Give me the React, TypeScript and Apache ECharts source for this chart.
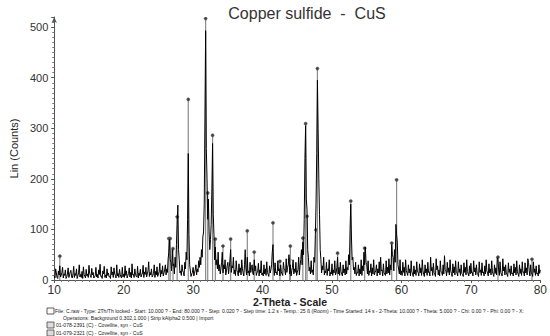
import React, { useEffect, useRef } from "react";
import * as echarts from "echarts";

const TITLE = "Copper sulfide  -  CuS";
const X_NAME = "2-Theta - Scale";
const Y_NAME = "Lin (Counts)";
const X_TICKS = [10, 20, 30, 40, 50, 60, 70, 80];
const Y_TICKS = [0, 100, 200, 300, 400, 500];
const Y_TOP = 520;

// measured scan, sampled every 0.2° starting at 10.0°
const SCAN_START = 10;
const SCAN_STEP = 0.2;
const scanCounts = [
  8, 22, 5, 18, 28, 9, 25, 12, 20, 6,
  24, 10, 19, 4, 27, 13, 22, 8, 30, 11,
  17, 26, 7, 21, 12, 29, 9, 23, 15, 6,
  25, 11, 20, 31, 8, 18, 27, 10, 22, 14,
  7, 26, 16, 24, 9, 30, 13, 21, 6, 25,
  12, 28, 18, 9, 24, 15, 32, 11, 22, 7,
  27, 14, 21, 10, 29, 16, 25, 12, 36, 15,
  22, 9, 30, 17, 26, 12, 33, 19, 28, 14,
  30, 22, 42, 80, 35, 60, 32, 45, 70, 148,
  40, 18, 30, 15, 35, 55, 120, 90, 30, 12,
  25, 14, 30, 22, 38, 45, 60, 85, 150, 493,
  200, 160, 60, 110, 270, 90, 65, 40, 55, 30,
  22, 55, 30, 40, 18, 35, 25, 60, 28, 45,
  20, 38, 15, 32, 24, 40, 14, 30, 22, 45,
  18, 35, 25, 12, 40, 28, 15, 33, 20, 38,
  14, 30, 22, 36, 11, 28, 20, 55, 25, 34,
  16, 38, 22, 30, 12, 35, 20, 42, 25, 50,
  30, 18, 40, 22, 35, 15, 45, 28, 60, 75,
  120, 305, 140, 45, 25, 38, 20, 45, 90, 250,
  300, 130, 40, 28, 45, 18, 35, 22, 40, 15,
  32, 20, 38, 14, 45, 25, 35, 12, 30, 22,
  38, 25, 50, 100, 85, 45, 25, 35, 15, 30,
  22, 40, 28, 55, 65, 30, 38, 18, 32, 24,
  40, 15, 30, 22, 36, 45, 20, 32, 14, 38,
  25, 42, 30, 70, 45, 60, 110, 75, 30, 40,
  18, 35, 25, 40, 14, 30, 22, 38, 12, 28,
  20, 36, 15, 32, 24, 40, 11, 30, 22, 35,
  16, 45, 25, 33, 12, 42, 28, 20, 38, 15,
  30, 48, 18, 35, 24, 40, 13, 32, 26, 38,
  14, 36, 22, 30, 11, 34, 25, 40, 17, 28,
  33, 15, 38, 24, 30, 12, 36, 20, 34, 16,
  28, 40, 14, 32, 22, 38, 12, 30, 24, 44,
  20, 36, 15, 42, 26, 30, 11, 34, 22, 28,
  14, 32, 25, 38, 12, 30, 22, 36, 16, 34,
  24, 42, 18, 30, 12, 36, 22, 28, 14, 30,
  20,
];

// scan samples between the ones above (10.1°, 10.3°, ... 79.9°)
const scanCountsOdd = [
  4, 14, 3, 10, 6, 15, 4, 9, 3, 12,
  5, 16, 6, 12, 5, 9, 3, 14, 6, 5,
  3, 11, 4, 8, 5, 13, 5, 10, 4, 9,
  6, 4, 11, 7, 3, 12, 5, 4, 9, 6,
  3, 10, 5, 12, 4, 8, 5, 11, 4, 6,
  5, 9, 4, 13, 6, 4, 10, 5, 12, 6,
  4, 9, 6, 14, 5, 11, 6, 18, 7, 10,
  6, 13, 5, 10, 7, 16, 6, 12, 8, 20,
  10, 15, 55, 40, 18, 28, 12, 25, 110, 60,
  14, 9, 18, 8, 22, 40, 250, 30, 7, 15,
  8, 20, 10, 16, 25, 30, 45, 95, 320, 260,
  120, 95, 80, 180, 130, 40, 30, 22, 18, 12,
  35, 14, 22, 10, 28, 12, 40, 15, 24, 12,
  9, 20, 8, 15, 10, 22, 8, 60, 10, 14,
  8, 15, 30, 10, 18, 9, 16, 8, 14, 10,
  8, 12, 9, 15, 7, 14, 30, 70, 9, 14,
  10, 18, 8, 16, 9, 22, 10, 15, 30, 12,
  8, 25, 12, 15, 9, 20, 10, 40, 30, 50,
  240, 160, 60, 18, 12, 15, 10, 35, 150, 395,
  200, 60, 14, 20, 10, 14, 9, 18, 8, 12,
  9, 14, 10, 25, 12, 9, 16, 8, 14, 10,
  12, 20, 30, 150, 40, 20, 12, 9, 14, 8,
  12, 9, 18, 30, 35, 12, 9, 15, 8, 12,
  10, 18, 8, 14, 10, 18, 8, 14, 9, 12,
  14, 10, 20, 50, 18, 35, 90, 30, 12, 10,
  9, 15, 8, 18, 9, 14, 8, 16, 7, 12,
  9, 16, 8, 14, 9, 18, 7, 14, 9, 15,
  8, 18, 9, 15, 7, 20, 10, 8, 16, 9,
  12, 20, 8, 15, 10, 18, 7, 14, 10, 16,
  8, 15, 9, 13, 7, 15, 10, 17, 8, 12,
  14, 8, 16, 10, 13, 7, 15, 9, 14, 8,
  12, 18, 8, 14, 10, 16, 7, 13, 10, 40,
  9, 15, 8, 18, 10, 14, 7, 15, 9, 12,
  8, 14, 10, 16, 7, 13, 9, 15, 8, 14,
  10, 35, 8, 14, 7, 15, 9, 12, 8, 13,
];

// reference pattern 01-078-2391 Covellite (stick positions and heights)
const refPositions = [
  10.8, 26.5, 26.7, 27.1, 27.7, 29.3, 31.8, 32.1, 32.8, 33.2, 34.3, 35.4, 37.8, 38.8,
  41.5, 42.5, 43.9, 44.0, 45.8, 46.2, 46.4, 47.7, 47.9, 50.8, 52.7, 54.7, 58.6, 59.3,
  73.9, 78.8,
];
const refHeights = [
  47, 82, 82, 62, 125, 357, 517, 172, 286, 81, 67, 81, 97, 55,
  113, 37, 40, 67, 83, 309, 126, 99, 418, 53, 156, 63, 73, 198,
  45, 41,
];

const FOOTER = [
  "File: C.raw - Type: 2Th/Th locked - Start: 10.000 ? - End: 80.000 ? - Step: 0.020 ? - Step time: 1.2 s - Temp.: 25 ß (Room) - Time Started: 14 s - 2-Theta: 10.000 ? - Theta: 5.000 ? - Chi: 0.00 ? - Phi: 0.00 ? - X:",
  "Operations: Background 0.302,1.000 | Strip kAlpha2 0.500 | Import",
  "01-078-2391 (C) - Covellite, syn - CuS",
  "01-079-2321 (C) - Covellite, syn - CuS",
];

const FONT = "'Liberation Sans', Arial, sans-serif";

export default function App() {
  const ref = useRef<HTMLDivElement>(null);

  useEffect(() => {
    if (!ref.current) return;
    const chart = echarts.init(ref.current, undefined, { renderer: "svg" });

    const even = scanCounts.map(
      (y, i) => [Math.round((SCAN_START + i * SCAN_STEP) * 10) / 10, y] as [number, number]
    );
    const odd = scanCountsOdd.map(
      (y, i) => [Math.round((SCAN_START + SCAN_STEP / 2 + i * SCAN_STEP) * 10) / 10, y] as [number, number]
    );
    const scan = even.concat(odd).sort((a, b) => a[0] - b[0]);

    const sticks = refPositions.map((x, i) => [x, refHeights[i]]);

    const footStyle = { fontFamily: FONT, fontSize: 5.1, fill: "#222", textVerticalAlign: "middle" };

    chart.setOption({
      animation: false,
      backgroundColor: "#ffffff",
      title: {
        text: TITLE,
        left: 302,
        top: 0,
        textAlign: "center",
        textStyle: { fontFamily: FONT, fontSize: 16, fontWeight: "normal", color: "#333" },
      },
      grid: { left: 47, right: 9, top: 17, bottom: 56 },
      xAxis: {
        type: "value",
        min: X_TICKS[0],
        max: X_TICKS[X_TICKS.length - 1],
        interval: X_TICKS[1] - X_TICKS[0],
        axisLine: { lineStyle: { color: "#555", width: 1 } },
        axisTick: { length: 3, lineStyle: { color: "#555" } },
        minorTick: { show: true, splitNumber: 10, length: 2, lineStyle: { color: "#777" } },
        splitLine: { show: false },
        axisLabel: { fontFamily: FONT, fontSize: 12, color: "#333", margin: 4 },
      },
      yAxis: {
        type: "value",
        min: Y_TICKS[0],
        max: Y_TOP,
        interval: Y_TICKS[1] - Y_TICKS[0],
        name: Y_NAME,
        nameLocation: "middle",
        nameGap: 34,
        nameTextStyle: { fontFamily: FONT, fontSize: 11, color: "#222" },
        axisLine: {
          show: true,
          symbol: ["none", "arrow"],
          symbolSize: [4, 6],
          lineStyle: { color: "#555", width: 1 },
        },
        axisTick: { show: true, length: 3, lineStyle: { color: "#555" } },
        minorTick: { show: true, splitNumber: 10, length: 2, lineStyle: { color: "#777" } },
        splitLine: { show: false },
        axisLabel: {
          fontFamily: FONT,
          fontSize: 11,
          color: "#333",
          margin: 6,
          showMaxLabel: false,
          formatter: (v: number) => (Y_TICKS.indexOf(v) >= 0 ? String(v) : ""),
        },
      },
      series: [
        {
          type: "custom",
          name: "reference",
          clip: true,
          z: 2,
          renderItem: (params: any, api: any) => {
            const x = api.value(0);
            const y = api.value(1);
            const top = api.coord([x, y]);
            const bottom = api.coord([x, 0]);
            return {
              type: "group",
              children: [
                {
                  type: "line",
                  shape: { x1: top[0], y1: top[1], x2: bottom[0], y2: bottom[1] },
                  style: { stroke: "#8a8a8a", lineWidth: 1.2 },
                },
                {
                  type: "circle",
                  shape: { cx: top[0], cy: top[1], r: 1.6 },
                  style: { fill: "#444", stroke: "#666", lineWidth: 0.5 },
                },
              ],
            };
          },
          data: sticks,
        },
        {
          type: "line",
          name: "scan",
          data: scan,
          symbol: "none",
          z: 3,
          lineStyle: { color: "#000", width: 1 },
        },
      ],
      graphic: [
        {
          type: "text",
          x: 290,
          y: 302,
          style: {
            text: X_NAME,
            fontFamily: FONT,
            fontSize: 10.5,
            fontWeight: "bold",
            fill: "#222",
            textAlign: "center",
            textVerticalAlign: "middle",
          },
        },
        { type: "rect", shape: { x: 47, y: 308, width: 7, height: 6 }, style: { fill: "#fff", stroke: "#333", lineWidth: 0.8 } },
        { type: "text", x: 55, y: 311, style: { text: FOOTER[0], ...footStyle } },
        { type: "text", x: 63, y: 318, style: { text: FOOTER[1], ...footStyle } },
        { type: "rect", shape: { x: 47, y: 322, width: 7, height: 6 }, style: { fill: "#ddd", stroke: "#444", lineWidth: 0.8 } },
        { type: "text", x: 56, y: 325, style: { text: FOOTER[2], ...footStyle } },
        { type: "rect", shape: { x: 47, y: 330, width: 7, height: 6 }, style: { fill: "#ddd", stroke: "#444", lineWidth: 0.8 } },
        { type: "text", x: 56, y: 333, style: { text: FOOTER[3], ...footStyle } },
      ],
    });

    return () => chart.dispose();
  }, []);

  return (
    <div
      ref={ref}
      style={{ position: "fixed", left: 0, top: 0, width: 550, height: 336, background: "#fff" }}
    />
  );
}
